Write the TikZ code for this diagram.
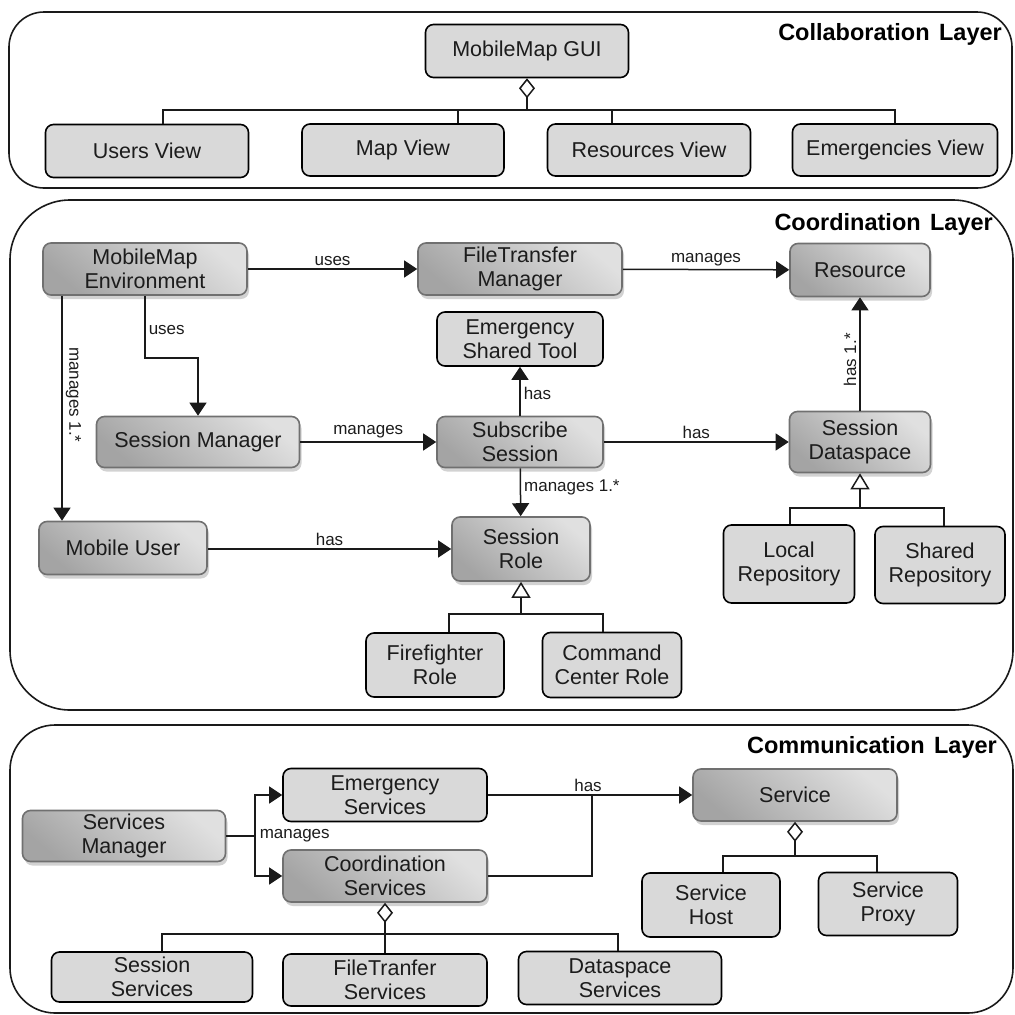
\documentclass[tikz,border=0pt]{standalone}
\usepackage{fontspec}
\setmainfont{Liberation Sans}
\usetikzlibrary{arrows.meta,shadows}
\definecolor{boxfill}{HTML}{D9D9D9}
\definecolor{txt}{HTML}{1C1C1C}
\definecolor{edgegray}{HTML}{707070}
\definecolor{shadelight}{HTML}{E0E0E0}
\definecolor{shadedark}{HTML}{A4A4A4}
\definecolor{linecol}{HTML}{1A1A1A}
\tikzset{
  box/.style={rounded corners=8pt, line width=1.6pt, align=center, text=txt,
    inner sep=0pt, font=\fontsize{21.5}{24.5}\selectfont},
  plainbox/.style={box, draw=black, fill=boxfill},
  shadedbox/.style={box, draw=edgegray, top color=shadelight, bottom color=shadedark,
    shading angle=-40,
    drop shadow={shadow xshift=2pt, shadow yshift=-4pt, fill=black!25, opacity=0.7}},
  sz/.style 2 args={minimum width=#1pt, minimum height=#2pt},
  conn/.style={draw=linecol, line width=1.5pt},
  arr/.style={conn, -{Triangle[length=13pt,width=17pt]}},
  inh/.style={conn, {Triangle[open,length=16pt,width=19pt,fill=white]}-},
  agg/.style={conn, {Diamond[open,length=20pt,width=16pt,fill=white]}-},
  lbl/.style={font=\fontsize{17}{19}\selectfont, text=txt, inner sep=3pt},
  frame/.style={draw=linecol, line width=1.6pt},
  layertitle/.style={font=\fontsize{23.5}{26}\selectfont\bfseries, text=black, inner sep=0pt, anchor=base east}
}
\begin{document}
\begin{tikzpicture}[x=1pt,y=-1pt]
\useasboundingbox (0,0) rectangle (1015,1015);

% ---------- layer frames ----------
\draw[frame, rounded corners=35pt] (9,12) rectangle (1012,188);
\draw[frame, rounded corners=60pt] (10,200) rectangle (1013,710);
\draw[frame, rounded corners=45pt] (10,725) rectangle (1013,1013);
\node[layertitle] (tcol) at (1002,40) {Collaboration\hspace{0.4em}Layer};
\node[layertitle] (tcoo) at (993,230) {Coordination\hspace{0.4em}Layer};
\node[layertitle] (tcom) at (997,753) {Communication\hspace{0.4em}Layer};

% ---------- collaboration layer ----------
\node[plainbox, sz={203}{53}] (gui) at (527,51) {MobileMap GUI};
\node[plainbox, sz={203}{53}] (usersv) at (147,151) {Users View};
\node[plainbox, sz={202}{52}] (mapv) at (403,150) {Map View};
\node[plainbox, sz={203}{52}] (resv) at (649,150) {Resources View};
\node[plainbox, sz={205}{52}] (emerv) at (895,150) {Emergencies View};
\coordinate (guibar) at (527,110);
\draw[agg] (gui.south) -- (guibar);
\draw[conn] ([xshift=16pt]usersv.north) |- (guibar) -| (emerv.north);
\draw[conn] ([xshift=55pt]mapv.north) |- (guibar);
\draw[conn] ([xshift=-37pt]resv.north) |- (guibar);

% ---------- coordination layer ----------
\node[shadedbox, sz={204}{52}] (env) at (145,269) {MobileMap\\Environment};
\node[shadedbox, sz={204}{52}] (ftm) at (520,269) {FileTransfer\\Manager};
\node[shadedbox, sz={140}{53}] (res) at (860,270) {Resource};
\node[plainbox, sz={166}{54}] (est) at (520,339) {Emergency\\Shared Tool};
\node[shadedbox, sz={203}{51}] (sm) at (198,442) {Session Manager};
\node[shadedbox, sz={166}{51}] (ss) at (520,442) {Subscribe\\Session};
\node[shadedbox, sz={141}{61}] (sd) at (860,442) {Session\\Dataspace};
\node[shadedbox, sz={168}{53}] (mu) at (123,548) {Mobile User};
\node[shadedbox, sz={138}{64}] (sr) at (521,549) {Session\\Role};
\node[plainbox, sz={138}{64}] (ffr) at (435,665) {Firefighter\\Role};
\node[plainbox, sz={139}{65}] (ccr) at (612,665) {Command\\Center Role};
\node[plainbox, sz={131}{78}] (lr) at (789,564) {Local\\Repository};
\node[plainbox, sz={130}{77}] (shr) at (940,565) {Shared\\Repository};

\draw[arr] (env) -- node[lbl, above] {uses} (ftm);
\draw[arr] (ftm) -- node[lbl, above] {manages} (res);
\draw[arr] (env.south) -- ++(0,62) node[lbl, right, pos=0.55] {uses} -| (sm.north);
\draw[arr] ([xshift=-83pt]env.south) -- ([xshift=-83pt]env.south |- mu.north)
  node[lbl, pos=0.44, anchor=south, rotate=-90] {manages 1.*};
\draw[arr] (sm) -- node[lbl, above] {manages} (ss);
\draw[arr] (ss) -- node[lbl, right, pos=0.45] {has} (est);
\draw[arr] (ss) -- node[lbl, above] {has} (sd);
\draw[arr] (sd) -- node[lbl, anchor=south, rotate=90, pos=0.45] {has 1.*} (res);
\draw[arr] (ss) -- node[lbl, right, pos=0.4] {manages 1.*} (sr);
\draw[arr] (mu.east |- sr.west) -- node[lbl, above] {has} (sr.west);

\coordinate (srbar) at (521,614);
\draw[inh] (sr.south) -- (srbar);
\draw[conn] ([xshift=14pt]ffr.north) |- (srbar) -| ([xshift=-9pt]ccr.north);
\coordinate (sdbar) at (860,508);
\draw[inh] (sd.south) -- (sdbar);
\draw[conn] ([xshift=1pt]lr.north) |- (sdbar) -| ([xshift=4pt]shr.north);

% ---------- communication layer ----------
\node[shadedbox, sz={203}{51}] (smgr) at (124,836) {Services\\Manager};
\node[plainbox, sz={204}{53}] (es) at (385,795) {Emergency\\Services};
\node[shadedbox, sz={204}{52}] (cs) at (385,876) {Coordination\\Services};
\node[shadedbox, sz={204}{52}] (svc) at (795,795) {Service};
\node[plainbox, sz={138}{64}] (sh) at (711,905) {Service\\Host};
\node[plainbox, sz={139}{63}] (sp) at (888,904) {Service\\Proxy};
\node[plainbox, sz={201}{50}] (sess) at (152,977) {Session\\Services};
\node[plainbox, sz={204}{52}] (fts) at (385,980) {FileTranfer\\Services};
\node[plainbox, sz={203}{53}] (dss) at (620,978) {Dataspace\\Services};

\coordinate (fork) at (255,836);
\draw[conn] (smgr.east |- fork) -- (fork) node[lbl, anchor=west, inner sep=4pt] {manages};
\draw[arr] (fork) |- (es.west);
\draw[arr] (fork) |- (cs.west);

\coordinate (hasj) at (592,795);
\draw[conn] (es.east) -- (hasj);
\draw[conn] (cs.east) -| (hasj);
\draw[arr] (hasj) node[lbl, above, xshift=-4pt] {has} -- (svc.west);

\coordinate (svcbar) at (795,856);
\draw[agg] (svc.south) -- (svcbar);
\draw[conn] ([xshift=12pt]sh.north) |- (svcbar) -| ([xshift=-11pt]sp.north);

\coordinate (csbar) at (385,934);
\draw[agg] (cs.south) -- (fts.north);
\draw[conn] ([xshift=10pt]sess.north) |- (csbar) -| ([xshift=-2pt]dss.north);
\end{tikzpicture}
\end{document}
